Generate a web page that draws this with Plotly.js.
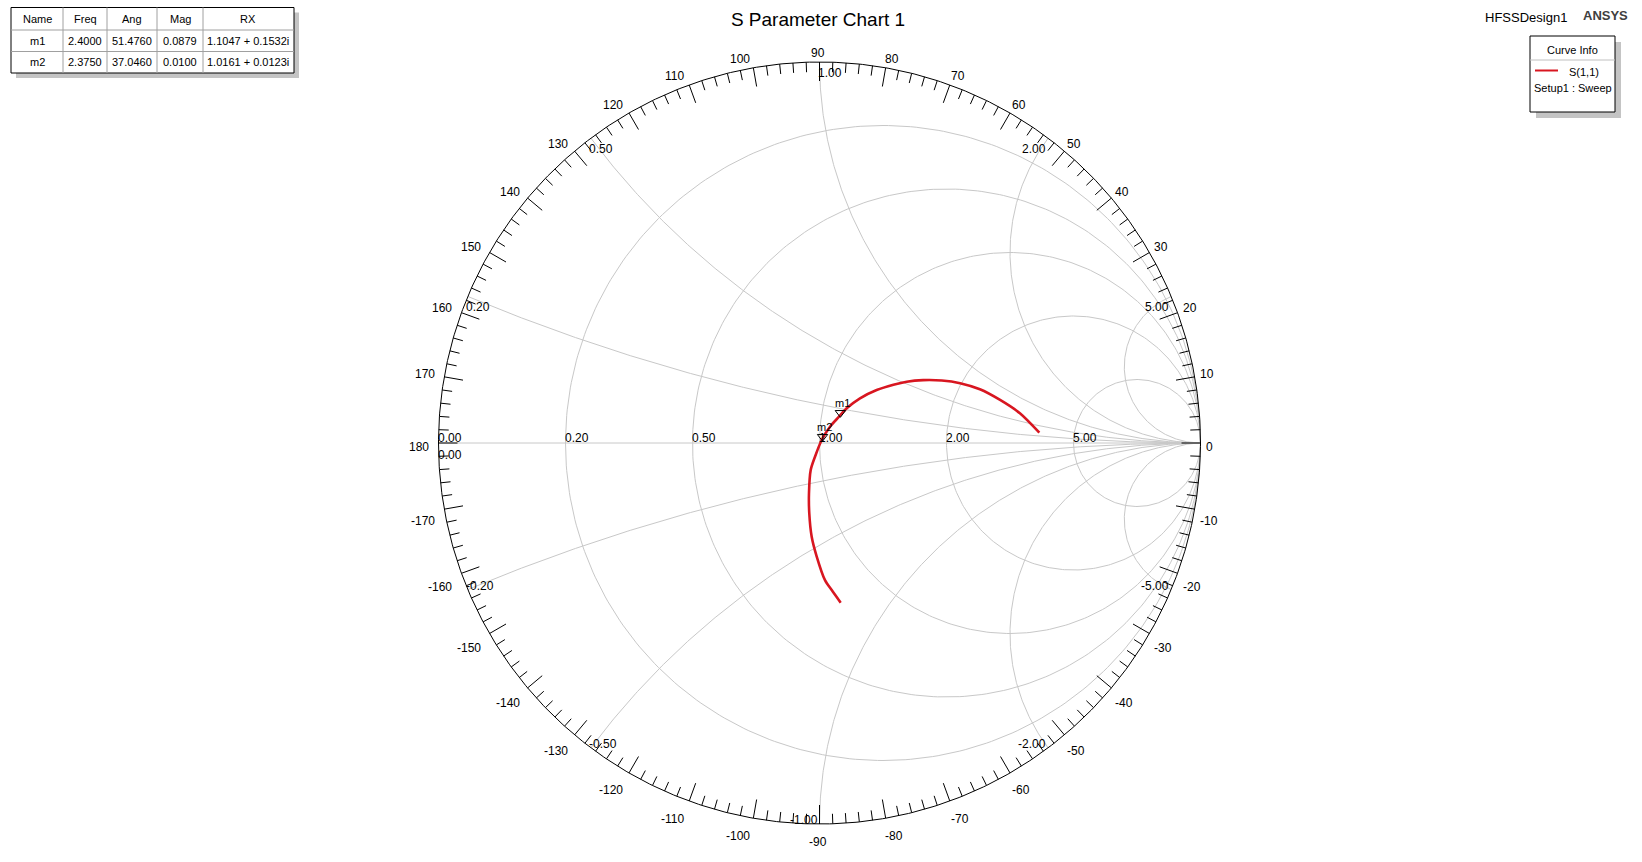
<!DOCTYPE html>
<html><head><meta charset="utf-8">
<script src="https://cdn.plot.ly/plotly-3.0.1.min.js"></script>
<style>html,body{margin:0;padding:0;background:#fff;} #chart{width:1642px;height:862px;}</style>
</head><body><div id="chart"></div>
<script>
// ---------------- data ----------------
const s11Re = [0.0556, 0.032, 0.0144, -0.0073, -0.0205, -0.0268, -0.0276, -0.0231, -0.0118, 0.0058, 0.0276, 0.0512, 0.0714, 0.1063, 0.150, 0.194, 0.229, 0.272, 0.321, 0.369, 0.421, 0.474, 0.526, 0.577];
const s11Im = [-0.419, -0.386, -0.360, -0.298, -0.246, -0.185, -0.132, -0.0709, -0.036, 0.0079, 0.0428, 0.069, 0.0911, 0.1173, 0.139, 0.153, 0.161, 0.165, 0.164, 0.157, 0.141, 0.113, 0.078, 0.027];

// marker table
const tableHeaders = ['Name', 'Freq', 'Ang', 'Mag', 'RX'];
const markerNames = ['m1', 'm2'];
const markerFreq = ['2.4000', '2.3750'];
const markerAng = [51.4760, 37.0460];
const markerMag = [0.0879, 0.0100];
const markerRX = ['1.1047 + 0.1532i', '1.0161 + 0.0123i'];

// smith grid values
const resistanceValues = [0.2, 0.5, 1, 2, 5];
const reactanceValues = [0.2, 0.5, 1, 2, 5];
const angleLabels = [0, 10, 20, 30, 40, 50, 60, 70, 80, 90, 100, 110, 120, 130, 140, 150, 160, 170, 180,
  -170, -160, -150, -140, -130, -120, -110, -100, -90, -80, -70, -60, -50, -40, -30, -20, -10];

const chartTitle = 'S Parameter Chart 1';
const designName = 'HFSSDesign1';
const brand = 'ANSYS';
const curveName = 'S(1,1)';
const curveSetup = 'Setup1 : Sweep';

// ---------------- geometry ----------------
const W = 1642, H = 862, CX = 819.5, CY = 443, R = 381;
const xRange = [-CX / R, (W - CX) / R];
const yRange = [(CY - H) / R, CY / R];
const FONT = 'Liberation Sans, Arial, sans-serif';
const RED = 'rgb(216,22,32)';
const px = v => v / W, py = v => 1 - v / H;

const traces = [];
const annotations = [];
const shapes = [];

// grid
const gx = [], gy = [];
function arc(cx, cy, r, a0, a1, n) {
  for (let i = 0; i <= n; i++) {
    const a = a0 + (a1 - a0) * i / n;
    gx.push(cx + r * Math.cos(a)); gy.push(cy + r * Math.sin(a));
  }
  gx.push(null); gy.push(null);
}
resistanceValues.forEach(r => arc(r / (1 + r), 0, 1 / (1 + r), 0, 2 * Math.PI, 360));
reactanceValues.forEach(x => {
  [x, -x].forEach(xv => {
    const s = Math.sign(xv), cy = 1 / xv, rad = 1 / Math.abs(xv);
    const pX = (xv * xv - 1) / (xv * xv + 1), pY = 2 * xv / (xv * xv + 1);
    let phiP = Math.atan2(s * (pY - cy), pX - 1);
    if (phiP < 0) phiP += 2 * Math.PI;
    const n = 300;
    for (let i = 0; i <= n; i++) {
      const a = phiP + (1.5 * Math.PI - phiP) * i / n;
      gx.push(1 + rad * Math.cos(a)); gy.push(s * (s * cy + rad * Math.sin(a)));
    }
    gx.push(null); gy.push(null);
  });
});
gx.push(-1, 1, null); gy.push(0, 0, null);
traces.push({x: gx, y: gy, mode: 'lines', line: {color: '#c8c8c8', width: 1}, hoverinfo: 'skip'});

// outer circle
const ox = [], oy = [];
for (let i = 0; i <= 720; i++) { const a = i * Math.PI / 360; ox.push(Math.cos(a)); oy.push(Math.sin(a)); }
traces.push({x: ox, y: oy, mode: 'lines', line: {color: '#000', width: 1}, hoverinfo: 'skip'});

// angle ticks
const tx = [], ty = [];
for (let d = -180; d < 180; d += 2) {
  const a = d * Math.PI / 180, len = (d % 10 === 0 ? 19 : 10) / R;
  tx.push(Math.cos(a), (1 - len) * Math.cos(a), null);
  ty.push(Math.sin(a), (1 - len) * Math.sin(a), null);
}
traces.push({x: tx, y: ty, mode: 'lines', line: {color: '#000', width: 1}, hoverinfo: 'skip'});

// angle labels: glyph corner nearest to the circle sits at distance D
const D = 388 / R;
angleLabels.forEach(d => {
  const a = d * Math.PI / 180, c = Math.cos(a), s = Math.sin(a);
  const xa = c > 0.02 ? 'left' : (c < -0.02 ? 'right' : 'center');
  const ya = s > 0.02 ? 'bottom' : (s < -0.02 ? 'top' : 'middle');
  annotations.push({x: D * c, y: D * s, xref: 'x', yref: 'y', text: String(d),
    showarrow: false, xanchor: xa, yanchor: ya,
    xshift: xa === 'left' ? -3.5 : (xa === 'right' ? -0.5 : -2),
    yshift: ya === 'bottom' ? -7 : (ya === 'top' ? -2 : -4),
    font: {family: FONT, size: 12, color: '#000'}});
});

// reactance labels
reactanceValues.forEach(x => {
  [x, -x].forEach(xv => {
    const pX = (xv * xv - 1) / (xv * xv + 1), pY = 2 * xv / (xv * xv + 1);
    const upper = xv > 0;
    const left = upper ? xv <= 1 : Math.abs(xv) < 1;
    annotations.push({x: pX, y: pY, xref: 'x', yref: 'y', text: xv.toFixed(2), showarrow: false,
      xanchor: left ? 'left' : 'right', yanchor: upper ? 'top' : 'bottom', xshift: left ? -3.5 : 0, yshift: upper ? -2 : -5,
      font: {family: FONT, size: 12, color: '#000'}});
  });
});
// resistance labels
resistanceValues.forEach(r => {
  annotations.push({x: (r - 1) / (r + 1), y: 0, xref: 'x', yref: 'y', text: r.toFixed(2), showarrow: false,
    xanchor: 'left', yanchor: 'bottom', xshift: -3, yshift: -4, font: {family: FONT, size: 12, color: '#000'}});
});
annotations.push({x: -1, y: 0, xref: 'x', yref: 'y', text: (0).toFixed(2), showarrow: false,
  xanchor: 'left', yanchor: 'bottom', xshift: -3, yshift: -4, font: {family: FONT, size: 12, color: '#000'}});
annotations.push({x: -1, y: 0, xref: 'x', yref: 'y', text: (0).toFixed(2), showarrow: false,
  xanchor: 'left', yanchor: 'top', xshift: -3, yshift: -3, font: {family: FONT, size: 12, color: '#000'}});

// S11 curve
traces.push({x: s11Re, y: s11Im, mode: 'lines', line: {color: RED, width: 2.6, shape: 'spline', smoothing: 0.8}, hoverinfo: 'skip'});

// markers (tip of the triangle on the point)
const mX = markerMag.map((m, i) => m * Math.cos(markerAng[i] * Math.PI / 180));
const mY = markerMag.map((m, i) => m * Math.sin(markerAng[i] * Math.PI / 180) + 4 / R);
traces.push({x: mX, y: mY, mode: 'markers',
  marker: {symbol: 'triangle-down-open', size: 9, color: '#000', line: {width: 1, color: '#000'}}, hoverinfo: 'skip'});
markerNames.forEach((n, i) => annotations.push({x: mX[i], y: mY[i], xref: 'x', yref: 'y', text: n, showarrow: false,
  xanchor: 'center', yanchor: 'bottom', xshift: 2, yshift: 2, font: {family: FONT, size: 11, color: '#000'}}));

// marker table
const cols = [11, 63, 107, 157, 203, 294];
const rows = [7.5, 30, 51.5, 73];
shapes.push({type: 'rect', xref: 'paper', yref: 'paper', x0: px(cols[0] + 5), x1: px(cols[5] + 5), y0: py(rows[0] + 5), y1: py(rows[3] + 5),
  fillcolor: '#c4c4c4', line: {width: 0}, layer: 'below'});
shapes.push({type: 'rect', xref: 'paper', yref: 'paper', x0: px(cols[0]), x1: px(cols[5]), y0: py(rows[0]), y1: py(rows[3]),
  fillcolor: '#fff', line: {width: 1, color: '#000'}, layer: 'below'});
for (let c = 1; c < 5; c++) shapes.push({type: 'line', xref: 'paper', yref: 'paper', x0: px(cols[c]), x1: px(cols[c]), y0: py(rows[0]), y1: py(rows[3]), line: {width: 1, color: '#a0a0a0'}});
for (let r = 1; r < 3; r++) shapes.push({type: 'line', xref: 'paper', yref: 'paper', x0: px(cols[0]), x1: px(cols[5]), y0: py(rows[r]), y1: py(rows[r]), line: {width: 1, color: '#a0a0a0'}});
const tableRows = [tableHeaders].concat(markerNames.map((n, i) => [n, markerFreq[i], markerAng[i].toFixed(4), markerMag[i].toFixed(4), markerRX[i]]));
tableRows.forEach((row, r) => row.forEach((t, c) => {
  annotations.push({x: px((cols[c] + cols[c + 1]) / 2), y: py((rows[r] + rows[r + 1]) / 2), xref: 'paper', yref: 'paper', text: t,
    showarrow: false, xanchor: 'center', yanchor: 'middle', font: {family: FONT, size: 11, color: '#000'}});
}));

// curve info box
const bx0 = 1530, bx1 = 1615, by0 = 36, by1 = 112;
shapes.push({type: 'rect', xref: 'paper', yref: 'paper', x0: px(bx0 + 6), x1: px(bx1 + 6), y0: py(by0 + 6), y1: py(by1 + 6), fillcolor: '#c4c4c4', line: {width: 0}, layer: 'below'});
shapes.push({type: 'rect', xref: 'paper', yref: 'paper', x0: px(bx0), x1: px(bx1), y0: py(by0), y1: py(by1), fillcolor: '#fff', line: {width: 1, color: '#000'}, layer: 'below'});
shapes.push({type: 'line', xref: 'paper', yref: 'paper', x0: px(bx0), x1: px(bx1), y0: py(60), y1: py(60), line: {width: 1, color: '#c0c0c0'}});
shapes.push({type: 'line', xref: 'paper', yref: 'paper', x0: px(1535), x1: px(1558), y0: py(70.5), y1: py(70.5), line: {width: 2, color: RED}});
annotations.push({x: px(1572.5), y: py(50), xref: 'paper', yref: 'paper', text: 'Curve Info', showarrow: false, xanchor: 'center', yanchor: 'middle', font: {family: FONT, size: 11, color: '#000'}});
annotations.push({x: px(1584), y: py(72), xref: 'paper', yref: 'paper', text: curveName, showarrow: false, xanchor: 'center', yanchor: 'middle', font: {family: FONT, size: 11, color: '#000'}});
annotations.push({x: px(1572.5), y: py(88), xref: 'paper', yref: 'paper', text: curveSetup, showarrow: false, xanchor: 'center', yanchor: 'middle', font: {family: FONT, size: 11, color: '#000'}});

// header texts
annotations.push({x: px(1526), y: py(17.5), xref: 'paper', yref: 'paper', text: designName, showarrow: false, xanchor: 'center', yanchor: 'middle', font: {family: FONT, size: 13, color: '#000'}});
annotations.push({x: px(1605.5), y: py(15), xref: 'paper', yref: 'paper', text: '<b>' + brand + '</b>', showarrow: false, xanchor: 'center', yanchor: 'middle', font: {family: FONT, size: 13, color: '#404040'}});

const layout = {
  width: W, height: H, margin: {l: 0, r: 0, t: 0, b: 0, pad: 0},
  paper_bgcolor: '#fff', plot_bgcolor: '#fff', showlegend: false,
  title: {text: chartTitle, x: 818 / W, xanchor: 'center', y: py(19), yanchor: 'middle', font: {family: FONT, size: 19, color: '#000'}},
  xaxis: {range: xRange, visible: false, fixedrange: true},
  yaxis: {range: yRange, visible: false, fixedrange: true},
  annotations: annotations, shapes: shapes
};
Plotly.newPlot('chart', traces, layout, {staticPlot: true, displayModeBar: false});
</script></body></html>
